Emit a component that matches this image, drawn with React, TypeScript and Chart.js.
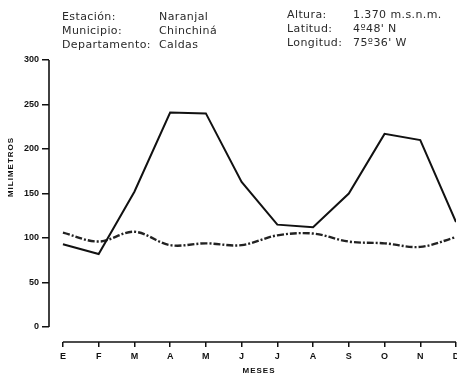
import React, { useEffect, useRef } from "react";
import { Chart, registerables } from "chart.js";

Chart.register(...registerables);

const months = ["E", "F", "M", "A", "M", "J", "J", "A", "S", "O", "N", "D"];
const precipitation = [93, 82, 152, 241, 240, 163, 115, 112, 150, 217, 210, 118];
const evaporation = [106, 96, 107, 92, 94, 92, 103, 105, 96, 94, 90, 101];
const yTicks = [0, 50, 100, 150, 200, 250, 300];

const infoLeft = [
  ["Estación:", "Naranjal"],
  ["Municipio:", "Chinchiná"],
  ["Departamento:", "Caldas"],
];
const infoRight = [
  ["Altura:", "1.370 m.s.n.m."],
  ["Latitud:", "4º48' N"],
  ["Longitud:", "75º36' W"],
];

const tickFont = { family: "'Liberation Sans', Arial, sans-serif", size: 9, weight: "bold" as const };

const axesPlugin = {
  id: "customAxes",
  afterDraw(chart: any) {
    const { ctx, scales, chartArea } = chart;
    const x = scales.x;
    const y = scales.y;
    ctx.save();
    ctx.strokeStyle = "#111";
    ctx.lineWidth = 1.6;
    // y axis line from 0 to 300
    ctx.beginPath();
    ctx.moveTo(chartArea.left, y.getPixelForValue(0));
    ctx.lineTo(chartArea.left, y.getPixelForValue(300));
    ctx.stroke();
    // x axis line from first to last month
    ctx.beginPath();
    ctx.moveTo(x.getPixelForValue(0), chartArea.bottom);
    ctx.lineTo(x.getPixelForValue(months.length - 1), chartArea.bottom);
    ctx.stroke();
    ctx.fillStyle = "#111";
    ctx.textAlign = "center";
    ctx.textBaseline = "middle";
    ctx.font = "bold 8px 'Liberation Sans', Arial, sans-serif";
    try { (ctx as any).letterSpacing = "1px"; } catch (e) {}
    // x title
    ctx.fillText("MESES", 259, 371);
    // y title
    ctx.translate(11, 167);
    ctx.rotate(-Math.PI / 2);
    ctx.fillText("MILIMETROS", 0, 0);
    ctx.restore();
  },
};

export default function App() {
  const ref = useRef<HTMLCanvasElement>(null);

  useEffect(() => {
    if (!ref.current) return;
    const chart = new Chart(ref.current, {
      type: "line",
      data: {
        datasets: [
          {
            label: "Precipitación",
            data: precipitation.map((v, i) => ({ x: i, y: v })),
            borderColor: "#111",
            borderWidth: 2,
            pointRadius: 0,
            tension: 0,
            fill: false,
          },
          {
            label: "Evaporación",
            data: evaporation.map((v, i) => ({ x: i, y: v })),
            borderColor: "#222",
            borderWidth: 2.4,
            borderDash: [7, 2, 2, 2],
            pointRadius: 0,
            tension: 0.35,
            fill: false,
          },
        ],
      },
      options: {
        animation: false,
        responsive: false,
        devicePixelRatio: 1,
        layout: { padding: { top: 60, right: 1, bottom: 0, left: 0 } },
        plugins: { legend: { display: false }, tooltip: { enabled: false } },
        scales: {
          x: {
            type: "linear",
            min: -0.39,
            max: months.length - 1,
            afterBuildTicks: (s: any) => {
              s.ticks = months.map((_, i) => ({ value: i }));
            },
            afterFit: (s: any) => {
              s.height = 34;
              s.paddingLeft = 0;
              s.paddingRight = 0;
            },
            border: { display: false },
            grid: {
              display: true,
              drawOnChartArea: false,
              drawTicks: true,
              tickLength: 5,
              color: "#111",
              lineWidth: 1.5,
            },
            ticks: {
              autoSkip: false,
              maxRotation: 0,
              padding: 4,
              color: "#111",
              font: tickFont,
              callback: (v: any) => months[Math.round(Number(v))] ?? "",
            },
          },
          y: {
            type: "linear",
            min: -16.85,
            max: 300,
            afterBuildTicks: (s: any) => {
              s.ticks = yTicks.map((v) => ({ value: v }));
            },
            afterFit: (s: any) => {
              s.width = 49;
              s.paddingTop = 0;
              s.paddingBottom = 0;
            },
            border: { display: false },
            grid: {
              display: true,
              drawOnChartArea: false,
              drawTicks: true,
              tickLength: 7,
              color: "#111",
              lineWidth: 1.5,
            },
            ticks: {
              padding: 3,
              color: "#111",
              font: tickFont,
            },
          },
        },
      },
      plugins: [axesPlugin],
    });
    return () => chart.destroy();
  }, []);

  const textStyle: React.CSSProperties = {
    position: "absolute",
    fontFamily: "'DejaVu Sans', sans-serif",
    fontSize: 11,
    letterSpacing: 0.4,
    lineHeight: "14px",
    color: "#2a2a2a",
    whiteSpace: "nowrap",
  };

  return (
    <div style={{ position: "absolute", top: 0, left: 0, width: 457, height: 376, background: "#fff" }}>
      <canvas ref={ref} width={457} height={376} style={{ position: "absolute", top: 0, left: 0 }} />
      {infoLeft.map(([k, v], i) => (
        <React.Fragment key={"l" + i}>
          <span style={{ ...textStyle, left: 62, top: 10 + i * 14 }}>{k}</span>
          <span style={{ ...textStyle, left: 159, top: 10 + i * 14 }}>{v}</span>
        </React.Fragment>
      ))}
      {infoRight.map(([k, v], i) => (
        <React.Fragment key={"r" + i}>
          <span style={{ ...textStyle, left: 287, top: 8 + i * 14 }}>{k}</span>
          <span style={{ ...textStyle, left: 353, top: 8 + i * 14 }}>{v}</span>
        </React.Fragment>
      ))}
    </div>
  );
}
